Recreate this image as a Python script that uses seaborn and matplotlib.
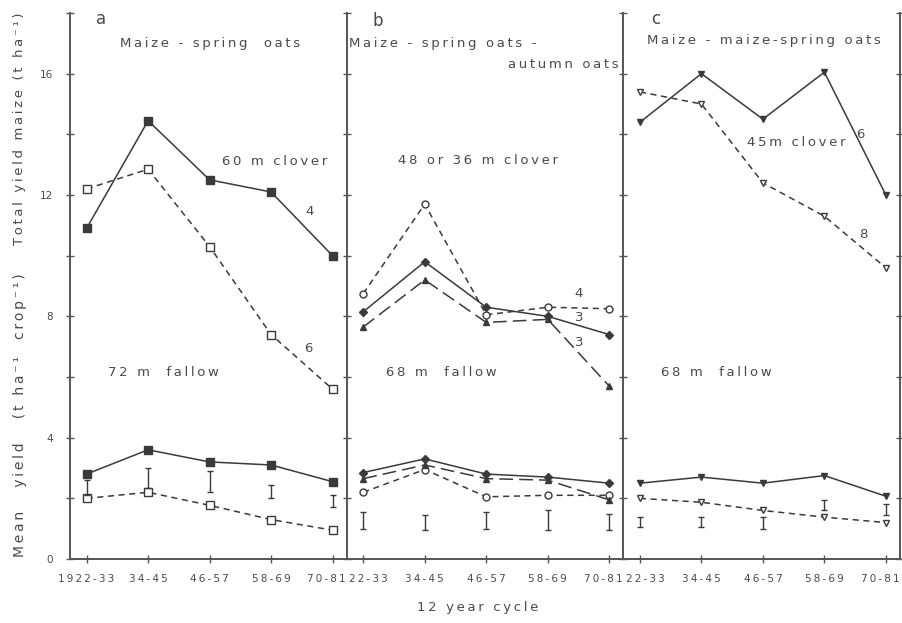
"""
Crop rotation yields over 12-year cycles: three rotations (a, b, c),
clover ley vs fallow, total maize yield and mean yield per crop.
"""

import numpy as np
import pandas as pd
import seaborn as sns
import matplotlib.pyplot as plt
from matplotlib.transforms import ScaledTranslation

# ----------------------------------------------------------------------------
# Data
# ----------------------------------------------------------------------------
CYCLES_A = ['1922-33', '34-45', '46-57', '58-69', '70-81']
CYCLES_BC = ['22-33', '34-45', '46-57', '58-69', '70-81']

# a: Maize - spring oats
a_clover_4 = [10.9, 14.45, 12.5, 12.1, 10.0]
a_clover_6 = [12.2, 12.85, 10.3, 7.4, 5.6]
a_fallow_4 = [2.8, 3.6, 3.2, 3.1, 2.55]
a_fallow_6 = [2.0, 2.2, 1.77, 1.3, 0.95]
a_bar_low = [2.1, 2.35, 2.2, 2.0, 1.7]
a_bar_high = [2.6, 3.0, 2.9, 2.45, 2.1]

# b: Maize - spring oats - autumn oats
b_clover_4 = [8.75, 11.7, 8.05, 8.3, 8.25]
b_clover_3a = [8.15, 9.8, 8.3, 8.0, 7.4]
b_clover_3b = [7.65, 9.2, 7.8, 7.9, 5.7]
b_fallow_4 = [2.2, 2.95, 2.05, 2.1, 2.1]
b_fallow_3a = [2.85, 3.3, 2.8, 2.7, 2.5]
b_fallow_3b = [2.65, 3.1, 2.65, 2.6, 1.95]
b_bar_low = [1.0, 0.95, 1.0, 0.95, 0.95]
b_bar_high = [1.55, 1.45, 1.55, 1.6, 1.5]

# c: Maize - maize - spring oats
c_clover_6 = [14.4, 16.0, 14.5, 16.05, 12.0]
c_clover_8 = [15.4, 15.0, 12.4, 11.3, 9.6]
c_fallow_6 = [2.5, 2.7, 2.5, 2.75, 2.07]
c_fallow_8 = [2.0, 1.87, 1.6, 1.38, 1.2]
c_bar_low = [1.05, 1.05, 1.0, 1.6, 1.45]
c_bar_high = [1.4, 1.4, 1.4, 1.95, 1.8]

INK = '#3a3a3a'
TXT = '#4a4a4a'

sns.set_style('ticks')
plt.rcParams['font.family'] = ['DejaVu Sans']


def sp(s):
    # wide letter spacing, like the typewritten original
    return '\u2009'.join(s)


fig = plt.figure(figsize=(9.03, 6.23), dpi=100)
W, H = 903, 623
x0_px, x1_px, y0_px, y1_px = 70, 900, 559, 13
pw = (x1_px - x0_px) / 3
axes = []
for i in range(3):
    ax = fig.add_axes([(x0_px + i * pw) / W, 1 - y0_px / H, pw / W, (y0_px - y1_px) / H])
    axes.append(ax)

x = np.arange(5)


def series(ax, y, marker, ls, filled=True, ms=6):
    df = pd.DataFrame({'cycle': x, 'y': y})
    sns.lineplot(data=df, x='cycle', y='y', ax=ax, color=INK, linewidth=1.1,
                 linestyle=ls, marker=marker, markersize=ms,
                 markerfacecolor=INK if filled else 'white',
                 markeredgecolor=INK, markeredgewidth=1.0,
                 errorbar=None, sort=False)


def lsd(ax, low, high):
    low, high = np.array(low), np.array(high)
    ax.errorbar(x, (low + high) / 2, yerr=(high - low) / 2, fmt='none',
                ecolor=INK, elinewidth=1.0, capsize=2.5, capthick=1.0)


DASH = (0, (4, 3))
LONG = (0, (9, 4))

# panel a
ax = axes[0]
series(ax, a_clover_4, 's', '-')
series(ax, a_clover_6, 's', DASH, filled=False)
series(ax, a_fallow_4, 's', '-')
series(ax, a_fallow_6, 's', DASH, filled=False)
lsd(ax, a_bar_low, a_bar_high)

# panel b
ax = axes[1]
series(ax, b_clover_4, 'o', DASH, filled=False, ms=5)
series(ax, b_clover_3a, 'D', '-', ms=4.5)
series(ax, b_clover_3b, '^', LONG, ms=4.5)
series(ax, b_fallow_4, 'o', DASH, filled=False, ms=5)
series(ax, b_fallow_3a, 'D', '-', ms=4.5)
series(ax, b_fallow_3b, '^', LONG, ms=4.5)
lsd(ax, b_bar_low, b_bar_high)

# panel c
ax = axes[2]
series(ax, c_clover_6, 'v', '-', ms=5)
series(ax, c_clover_8, 'v', DASH, filled=False, ms=5)
series(ax, c_fallow_6, 'v', '-', ms=5)
series(ax, c_fallow_8, 'v', DASH, filled=False, ms=5)
lsd(ax, c_bar_low, c_bar_high)

# axes styling
yt = np.arange(0, 19, 2)
for i, ax in enumerate(axes):
    ax.set_xlim(-0.27, 4.23)
    ax.set_ylim(0, 18)
    ax.set_xticks(x)
    ax.set_xticklabels([sp(t) for t in (CYCLES_A if i == 0 else CYCLES_BC)],
                       fontsize=7.5, color=TXT)
    ax.set_yticks(yt)
    ax.set_xlabel('')
    ax.set_ylabel('')
    ax.spines['top'].set_visible(False)
    ax.spines['right'].set_visible(i == 2)
    for s in ax.spines.values():
        s.set_color('#555555')
        s.set_linewidth(1.4)
    ax.tick_params(axis='both', direction='inout', length=6, width=1.0, color='#555555')
    ax.tick_params(axis='x', pad=8)
    if i == 0:
        ax.set_yticklabels([str(v) if v % 4 == 0 else '' for v in yt], fontsize=7.5, color=TXT)
        ax.tick_params(axis='y', pad=9)
    else:
        ax.set_yticklabels([])
    if i == 2:
        ax.tick_params(axis='y', right=True)

# labels at the panel joins sit tight against the spine
fig.canvas.draw()
for i, ax in enumerate(axes):
    labs = ax.get_xticklabels()
    labs[-1].set_transform(labs[-1].get_transform() + ScaledTranslation(-6 / 100, 0, fig.dpi_scale_trans))
    if i > 0:
        labs[0].set_transform(labs[0].get_transform() + ScaledTranslation(5 / 100, 0, fig.dpi_scale_trans))

tk = dict(color=TXT, fontsize=9.5)
# panel a text
ax = axes[0]
ax.text(0.15, 17.8, 'a', fontsize=12, color=TXT, va='center')
ax.text(2.0, 17.0, sp('Maize - spring  oats'), ha='center', va='center', **tk)
ax.text(3.06, 13.1, sp('60 m clover'), ha='center', va='center', **tk)
ax.text(3.63, 11.45, '4', ha='center', va='center', **tk)
ax.text(3.6, 6.95, '6', ha='center', va='center', **tk)
ax.text(1.25, 6.16, sp('72 m  fallow'), ha='center', va='center', **tk)

# panel b text
ax = axes[1]
ax.text(0.15, 17.75, 'b', fontsize=12, color=TXT, va='center')
ax.text(-0.24, 17.0, sp('Maize - spring oats -'), ha='left', va='center', **tk)
ax.text(4.15, 16.3, sp('autumn oats'), ha='right', va='center', **tk)
ax.text(1.86, 13.15, sp('48 or 36 m clover'), ha='center', va='center', **tk)
ax.text(3.5, 8.75, '4', ha='center', va='center', **tk)
ax.text(3.52, 7.95, '3', ha='center', va='center', **tk)
ax.text(3.52, 7.15, '3', ha='center', va='center', **tk)
ax.text(1.27, 6.16, sp('68 m  fallow'), ha='center', va='center', **tk)

# panel c text
ax = axes[2]
ax.text(0.18, 17.8, 'c', fontsize=12, color=TXT, va='center')
ax.text(2.02, 17.08, sp('Maize - maize-spring oats'), ha='center', va='center', **tk)
ax.text(2.54, 13.74, sp('45m clover'), ha='center', va='center', **tk)
ax.text(3.58, 14.0, '6', ha='center', va='center', **tk)
ax.text(3.64, 10.7, '8', ha='center', va='center', **tk)
ax.text(1.24, 6.16, sp('68 m  fallow'), ha='center', va='center', **tk)

# axis titles
fig.text(20 / W, 1 - 129 / H, sp('Total yield maize (t ha⁻¹)'), rotation=90,
         ha='center', va='center', color=TXT, fontsize=9.5)
fig.text(20 / W, 1 - 415 / H, sp('Mean   yield   (t ha⁻¹  crop⁻¹)'), rotation=90,
         ha='center', va='center', color=TXT, fontsize=10)
fig.text(478 / W, 1 - 607 / H, sp('12 year cycle'), ha='center', va='center',
         color=TXT, fontsize=9.5)

plt.savefig('out.png', dpi=100)
